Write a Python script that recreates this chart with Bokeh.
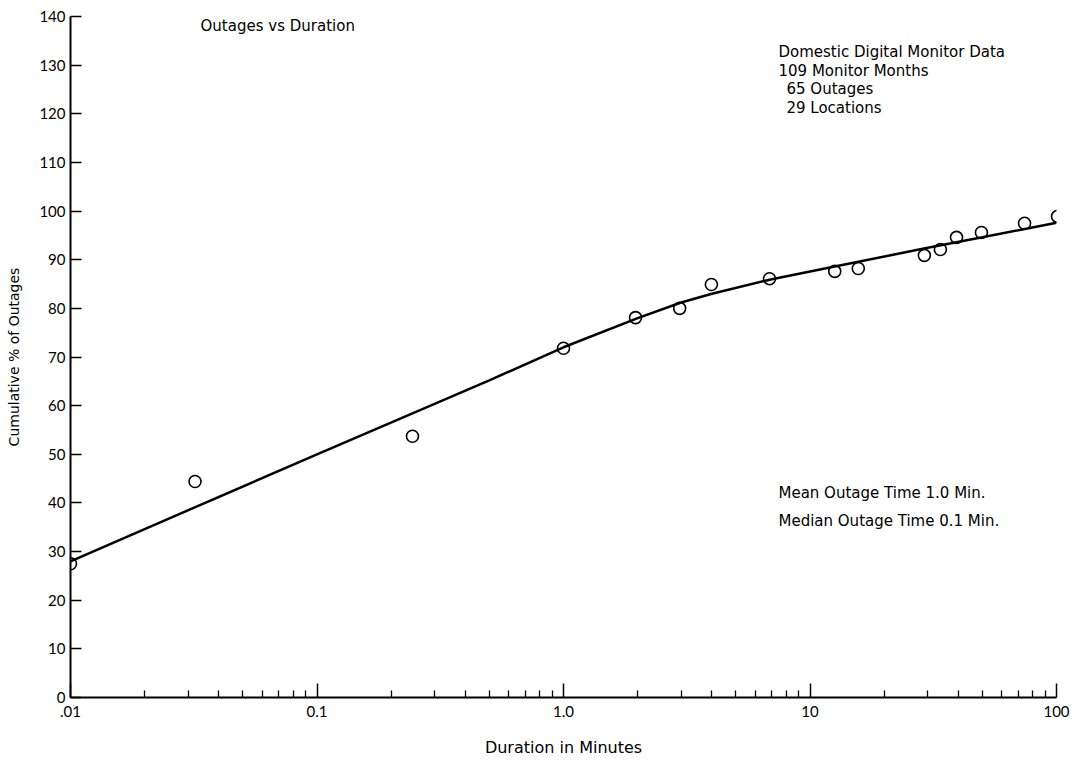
from bokeh.plotting import figure
from bokeh.models import FixedTicker, Label
from bokeh.embed import file_html
from bokeh.resources import INLINE

# Observed outages (duration in minutes, cumulative %)
duration = [0.01, 0.032, 0.244, 1.0, 1.96, 2.96, 3.98, 6.85, 12.6, 15.7, 29.1, 33.8, 39.3, 49.6, 74.2, 101.0]
cum_pct = [27.5, 44.4, 53.7, 71.8, 78.1, 80.0, 84.9, 86.1, 87.6, 88.2, 90.9, 92.1, 94.6, 95.6, 97.5, 98.9]

# Fitted curve
fit_x = [0.01, 0.1, 0.5, 1.0, 2.0, 3.0, 4.0, 7.0, 12.6, 29.0, 50.0, 100.0]
fit_y = [28.0, 50.0, 65.2, 72.0, 78.0, 81.2, 83.0, 86.0, 88.6, 92.3, 94.6, 97.6]

x_ticks = [0.01, 0.1, 1.0, 10.0, 100.0]
x_tick_labels = [".01", "0.1", "1.0", "10", "100"]
x_minor_ticks = [m * d for d in (0.01, 0.1, 1.0, 10.0) for m in (2, 3, 4, 5, 6, 7, 8, 9)]
y_ticks = list(range(0, 141, 10))

title_text = "Outages vs Duration"
info_lines = ["Domestic Digital Monitor Data", "109 Monitor Months", "65 Outages", "29 Locations"]
info_indent = [0, 0, 8, 8]
stat_lines = ["Mean Outage Time 1.0 Min.", "Median Outage Time 0.1 Min."]

TICK_FONT = "Lato"
FONT = "DejaVu Sans"

p = figure(width=1070, height=762, x_axis_type="log",
           x_range=(0.01, 100), y_range=(0, 140),
           output_backend="svg", toolbar_location=None,
           min_border_left=70, min_border_right=14, min_border_top=16, min_border_bottom=65)
p.outline_line_color = None
p.xgrid.visible = False
p.ygrid.visible = False
p.background_fill_color = "white"
p.border_fill_color = "white"

p.line(fit_x, fit_y, line_color="black", line_width=2.5)
p.scatter(duration, cum_pct, marker="circle", size=12, fill_color=None,
          line_color="black", line_width=1.6)

# x axis
xa = p.xaxis[0]
xa.ticker = FixedTicker(ticks=x_ticks, minor_ticks=x_minor_ticks)
xa.major_label_overrides = {t: l for t, l in zip(x_ticks, x_tick_labels)}
xa.major_tick_in = 14
xa.major_tick_out = 0
xa.minor_tick_in = 7
xa.minor_tick_out = 0
xa.axis_line_width = 2
xa.major_tick_line_width = 1.5
xa.minor_tick_line_width = 1.3
xa.major_label_text_font = TICK_FONT
xa.major_label_text_font_size = "15px"
xa.major_label_text_color = "black"
xa.major_label_standoff = 8
xa.axis_label = "Duration in Minutes"
xa.axis_label_text_font = FONT
xa.axis_label_text_font_size = "16px"
xa.axis_label_text_font_style = "normal"
xa.axis_label_text_color = "black"
xa.axis_label_standoff = 18

# y axis
ya = p.yaxis[0]
ya.ticker = FixedTicker(ticks=y_ticks, minor_ticks=[])
ya.major_tick_in = 11
ya.major_tick_out = 0
ya.axis_line_width = 2
ya.major_tick_line_width = 1.5
ya.major_label_text_font = TICK_FONT
ya.major_label_text_font_size = "15px"
ya.major_label_text_color = "black"
ya.major_label_standoff = 5
ya.axis_label = "Cumulative % of Outages"
ya.axis_label_text_font = FONT
ya.axis_label_text_font_size = "14px"
ya.axis_label_text_font_style = "normal"
ya.axis_label_text_color = "black"
ya.axis_label_standoff = 14

p.add_layout(Label(x=0.0337, y=138, text=title_text, text_font=FONT, text_color="black",
                   text_font_size="15px", text_baseline="middle"))
for i, line in enumerate(info_lines):
    p.add_layout(Label(x=7.45, y=132.6 - i * 3.8, x_offset=info_indent[i], text=line,
                       text_font=FONT, text_color="black", text_font_size="15px",
                       text_baseline="middle"))
for i, line in enumerate(stat_lines):
    p.add_layout(Label(x=7.45, y=42.1 - i * 5.8, text=line, text_font=FONT, text_color="black",
                       text_font_size="15px", text_baseline="middle"))

open("out.html", "w").write(file_html(p, INLINE))
